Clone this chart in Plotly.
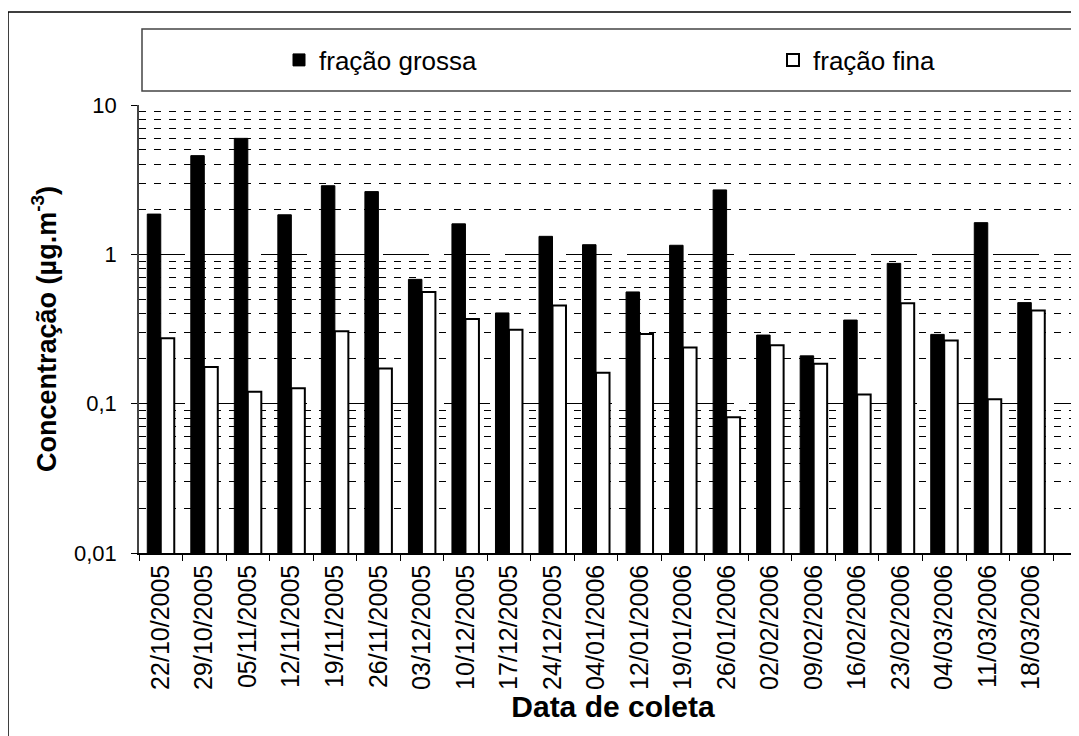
import plotly.graph_objects as go

# %% data
datas = ['22/10/2005', '29/10/2005', '05/11/2005', '12/11/2005', '19/11/2005', '26/11/2005',
         '03/12/2005', '10/12/2005', '17/12/2005', '24/12/2005', '04/01/2006', '12/01/2006',
         '19/01/2006', '26/01/2006', '02/02/2006', '09/02/2006', '16/02/2006', '23/02/2006',
         '04/03/2006', '11/03/2006', '18/03/2006']

fracao_grossa = [1.86, 4.58, 5.98, 1.84, 2.88, 2.63, 0.68, 1.60, 0.405, 1.32, 1.16,
                 0.56, 1.15, 2.70, 0.288, 0.209, 0.363, 0.87, 0.291, 1.63, 0.475]
fracao_fina = [0.274, 0.176, 0.120, 0.127, 0.305, 0.172, 0.56, 0.369, 0.313, 0.455, 0.161,
               0.293, 0.238, 0.081, 0.246, 0.185, 0.115, 0.47, 0.265, 0.107, 0.42]

y_ticks = [0.01, 0.1, 1, 10]
y_ticktext = ['0,01', '0,1', '1', '10']

# %% figure geometry
# page has an 8px body margin, so screen pixel p sits at p - 8 inside the figure
W, H = 1079, 736
OFF = 8
FONT = 'Liberation Sans'
px_x = lambda p: (p - OFF) / W
px_y = lambda p: 1 - (p - OFF) / H

minor_vals = [m * d for d in [0.01, 0.1, 1] for m in range(2, 10)]

fig = go.Figure()
fig.add_trace(go.Bar(x=datas, y=fracao_grossa, name='fração grossa',
                     marker=dict(color='black', line=dict(color='black', width=1)),
                     legend='legend', showlegend=True))
fig.add_trace(go.Bar(x=datas, y=fracao_fina, name='fração fina',
                     marker=dict(color='white', line=dict(color='black', width=2)),
                     legend='legend2', showlegend=True))

legend_style = dict(orientation='h', y=px_y(60), xanchor='left', yanchor='middle',
                    font=dict(size=26, family=FONT), bgcolor='rgba(0,0,0,0)',
                    borderwidth=0, visible=True)

fig.update_layout(
    width=W, height=H, autosize=False,
    margin=dict(l=0, r=0, t=0, b=0, pad=0),
    paper_bgcolor='white', plot_bgcolor='white',
    font=dict(family=FONT, color='black'),
    barmode='group', bargap=0.38, bargroupgap=0,
    showlegend=True,
    legend=dict(x=px_x(279), **legend_style),
    legend2=dict(x=px_x(773), **legend_style),
    shapes=[
        # outer frame of the chart
        dict(type='rect', xref='paper', yref='paper', x0=px_x(8), x1=1.05, y0=-0.05, y1=px_y(12),
             line=dict(color='black', width=1.5), layer='below'),
        # legend box
        dict(type='rect', xref='paper', yref='paper', x0=px_x(142), x1=1.05, y0=px_y(91), y1=px_y(29),
             line=dict(color='#444', width=1.5), layer='below'),
    ],
)

fig.update_xaxes(
    type='category', categoryorder='array', categoryarray=datas,
    domain=[px_x(139), 1.0], range=[-0.5, 21.28], automargin=False,
    tickson='boundaries', ticks='outside', ticklen=6, tickcolor='black', tickwidth=1,
    showline=True, linecolor='black', linewidth=1.5,
    showgrid=False, tickangle=-90,
    tickfont=dict(size=25, family=FONT),
    title=dict(text='Data de coleta', font=dict(size=30, family=FONT, weight='bold'), standoff=6),
)

fig.update_yaxes(
    type='log', range=[-2, 1], domain=[px_y(553), px_y(105)], automargin=False,
    tickvals=y_ticks, ticktext=y_ticktext,
    ticks='outside', ticklen=6, tickcolor='black', tickwidth=1, ticklabelstandoff=10,
    showline=True, linecolor='#444', linewidth=1.5,
    showgrid=True, gridcolor='black', gridwidth=1, griddash='46px,15px',
    minor=dict(tickvals=minor_vals, showgrid=True, gridcolor='black', gridwidth=1,
               griddash='7px,8px', ticks=''),
    tickfont=dict(size=22, family=FONT),
    title=dict(text='Concentração (µg.m<sup>-3</sup>)',
               font=dict(size=27, family=FONT, weight='bold'), standoff=10),
)

fig.write_html('out.html')
